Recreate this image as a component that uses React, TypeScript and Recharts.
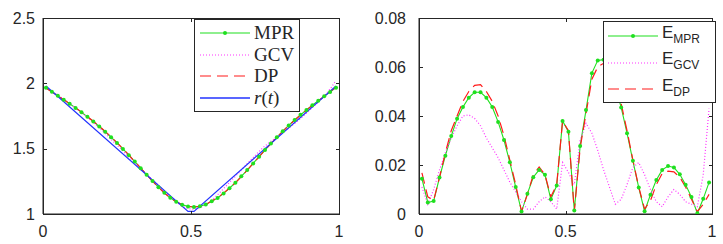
import React from "react";
import { LineChart, Line, XAxis, YAxis } from "recharts";

// sample positions t
const tGrid = [
  0.01, 0.03, 0.05, 0.07, 0.09, 0.11, 0.13, 0.15, 0.17, 0.19,
  0.21, 0.23, 0.25, 0.27, 0.29, 0.31, 0.33, 0.35, 0.37, 0.39,
  0.41, 0.43, 0.45, 0.47, 0.49, 0.51, 0.53, 0.55, 0.57, 0.59,
  0.61, 0.63, 0.65, 0.67, 0.69, 0.71, 0.73, 0.75, 0.77, 0.79,
  0.81, 0.83, 0.85, 0.87, 0.89, 0.91, 0.93, 0.95, 0.97, 0.99,
];

// reconstructions (left panel)
const mprFit = [
  1.9656, 1.9353, 1.9053, 1.8749, 1.8438, 1.8118, 1.7789, 1.7437, 1.7075, 1.6697,
  1.6297, 1.5875, 1.5437, 1.4976, 1.4502, 1.4011, 1.351, 1.301, 1.2517, 1.205,
  1.162, 1.124, 1.094, 1.0716, 1.058, 1.0536, 1.0586, 1.0722, 1.0976, 1.1225,
  1.1573, 1.197, 1.24, 1.288, 1.3365, 1.387, 1.4383, 1.4892, 1.5389, 1.5879,
  1.6339, 1.678, 1.7196, 1.759, 1.7962, 1.8319, 1.8669, 1.9003, 1.9338, 1.9671,
];
const gcvFit = [
  1.969, 1.936, 1.91, 1.878, 1.845, 1.811, 1.776, 1.74, 1.7005, 1.659,
  1.616, 1.571, 1.527, 1.483, 1.438, 1.393, 1.349, 1.305, 1.262, 1.218,
  1.175, 1.133, 1.095, 1.058, 1.041, 1.037, 1.048, 1.07, 1.103, 1.147,
  1.194, 1.242, 1.289, 1.336, 1.386, 1.432, 1.479, 1.521, 1.556, 1.59,
  1.625, 1.657, 1.693, 1.73, 1.772, 1.815, 1.856, 1.903, 1.956, 2.023,
];
const dpFit = [
  1.9632, 1.933, 1.9055, 1.875, 1.845, 1.814, 1.78, 1.746, 1.71, 1.6725,
  1.6328, 1.59, 1.546, 1.5, 1.452, 1.402, 1.352, 1.301, 1.252, 1.204,
  1.1608, 1.124, 1.093, 1.072, 1.058, 1.054, 1.059, 1.073, 1.099, 1.125,
  1.16, 1.1985, 1.239, 1.286, 1.335, 1.386, 1.438, 1.489, 1.538, 1.5855,
  1.632, 1.6765, 1.7175, 1.7572, 1.795, 1.831, 1.866, 1.901, 1.936, 1.972,
];
const rT = [0.01, 0.49, 0.51, 0.99];
const rVal = [1.98, 1.02, 1.02, 1.98];

// errors (right panel)
const eMpr = [
  0.0144, 0.0047, 0.0053, 0.0149, 0.0238, 0.0318, 0.0389, 0.0437, 0.0475, 0.0497,
  0.0497, 0.0475, 0.0437, 0.0376, 0.0302, 0.0211, 0.011, 0.001, 0.0083, 0.015,
  0.018, 0.016, 0.006, 0.0116, 0.038, 0.0336, 0.0014, 0.0278, 0.0424, 0.0575,
  0.0627, 0.063, 0.06, 0.052, 0.0435, 0.033, 0.0217, 0.0108, 0.0011, 0.0079,
  0.0139, 0.018, 0.0196, 0.019, 0.0162, 0.0119, 0.0069, 0.0003, 0.0062, 0.0129,
];
const eGcv = [
  0.011, 0.004, 0.01, 0.018, 0.025, 0.031, 0.036, 0.04, 0.0405, 0.039,
  0.036, 0.031, 0.027, 0.023, 0.018, 0.013, 0.009, 0.005, 0.002, 0.002,
  0.005, 0.007, 0.005, 0.002, 0.021, 0.017, 0.012, 0.03, 0.037, 0.033,
  0.026, 0.018, 0.011, 0.004, 0.006, 0.012, 0.019, 0.021, 0.016, 0.01,
  0.005, 0.003, 0.007, 0.01, 0.008, 0.005, 0.004, 0.003, 0.016, 0.043,
];
const eDp = [
  0.0168, 0.007, 0.0055, 0.015, 0.025, 0.034, 0.04, 0.046, 0.05, 0.0525,
  0.0528, 0.05, 0.046, 0.04, 0.032, 0.022, 0.012, 0.001, 0.008, 0.016,
  0.0192, 0.016, 0.007, 0.012, 0.038, 0.034, 0.001, 0.027, 0.041, 0.055,
  0.06, 0.0615, 0.061, 0.054, 0.045, 0.034, 0.022, 0.011, 0.002, 0.0055,
  0.012, 0.0165, 0.0175, 0.0172, 0.015, 0.011, 0.006, 0.001, 0.004, 0.008,
];

const xTicks = [0, 0.5, 1];
const fitTicks = [1, 1.5, 2, 2.5];
const errTicks = [0, 0.02, 0.04, 0.06, 0.08];

const fitRows = tGrid.map((t, i) => ({ t, mpr: mprFit[i], gcv: gcvFit[i], dp: dpFit[i] }));
const errRows = tGrid.map((t, i) => ({ t, mpr: eMpr[i], gcv: eGcv[i], dp: eDp[i] }));
const trueRows = rT.map((t, i) => ({ t, r: rVal[i] }));

const GREEN = "#1fe01f";
const MAGENTA = "#ff33ff";
const RED = "#ff1a1a";
const BLUE = "#2233ff";
const INK = "#262626";
const tickFont = { fill: INK, fontSize: 16, fontFamily: "Liberation Sans, Arial, sans-serif" };
const PLOT_TOP = 18;
const PLOT_H = 196;

// matlab-style box outline with inward ticks, drawn as a bordered div over the plot
function Box({ left, width, domain, yTicks }: { left: number; width: number; domain: number[]; yTicks: number[] }) {
  const [y0, y1] = domain;
  const tk = 4;
  const ys = yTicks.map((v) => Math.round(PLOT_H - ((v - y0) / (y1 - y0)) * PLOT_H));
  const xs = xTicks.map((v) => Math.round(v * width));
  const bar = (k: string, l: number, t: number, w: number, h: number) => (
    <div key={k} style={{ position: "absolute", left: l, top: t, width: w, height: h, background: INK }} />
  );
  return (
    <div style={{ position: "absolute", left, top: PLOT_TOP, width: width + 1, height: PLOT_H + 1, zIndex: 5, pointerEvents: "none" }}>
      <div style={{ position: "absolute", left: 0, top: 0, width: width - 1, height: PLOT_H - 1, border: `1px solid ${INK}` }} />
      {xs.map((x, i) => bar("xt" + i, x, 0, 1, tk))}
      {xs.map((x, i) => bar("xb" + i, x, PLOT_H - tk + 1, 1, tk))}
      {ys.map((y, i) => bar("yl" + i, 0, y, tk, 1))}
      {ys.map((y, i) => bar("yr" + i, width - tk + 1, y, tk, 1))}
    </div>
  );
}

function Sample({ kind }: { kind: string }) {
  return (
    <svg width={50} height={24} style={{ display: "block" }}>
      {kind === "mpr" && (
        <>
          <line x1={0} x2={50} y1={12} y2={12} stroke={GREEN} strokeWidth={1.2} />
          <circle cx={25} cy={12} r={2} fill={GREEN} />
        </>
      )}
      {kind === "gcv" && <line x1={0} x2={50} y1={12} y2={12} stroke={MAGENTA} strokeWidth={1.2} strokeDasharray="1 2" />}
      {kind === "dp" && <line x1={0} x2={50} y1={12} y2={12} stroke={RED} strokeWidth={1.2} strokeDasharray="11 6" />}
      {kind === "r" && <line x1={0} x2={50} y1={12} y2={12} stroke={BLUE} strokeWidth={1.4} />}
    </svg>
  );
}

const fitLegend = [
  { kind: "mpr", label: <span>MPR</span> },
  { kind: "gcv", label: <span>GCV</span> },
  { kind: "dp", label: <span>DP</span> },
  { kind: "r", label: <span><i>r</i>(<i>t</i>)</span> },
];
const errLegend = [
  { kind: "mpr", sub: "MPR" },
  { kind: "gcv", sub: "GCV" },
  { kind: "dp", sub: "DP" },
];

export default function App() {
  return (
    <div style={{ position: "absolute", left: 0, top: 0, width: 723, height: 244, background: "#fff" }}>
      <div style={{ position: "absolute", left: 0, top: 0 }}>
        <LineChart width={360} height={244} data={fitRows} margin={{ top: PLOT_TOP, right: 21, bottom: 0, left: 0 }}>
          <XAxis dataKey="t" type="number" domain={[0, 1]} ticks={xTicks} stroke={INK} tickLine={false}
            tickSize={-4} tickMargin={16} height={30} tick={tickFont} allowDataOverflow />
          <YAxis type="number" domain={[1, 2.5]} ticks={fitTicks} width={43} stroke={INK} tickLine={false}
            tickSize={-4} tickMargin={12} tick={tickFont} allowDataOverflow />
          <Line dataKey="mpr" stroke={GREEN} strokeWidth={1.1} dot={{ r: 2, fill: GREEN, stroke: "none" }} isAnimationActive={false} />
          <Line dataKey="gcv" stroke={MAGENTA} strokeWidth={1.2} strokeDasharray="1 2" dot={false} isAnimationActive={false} />
          <Line dataKey="dp" stroke={RED} strokeWidth={1.1} strokeDasharray="11 6" dot={false} isAnimationActive={false} />
          <Line data={trueRows} dataKey="r" stroke={BLUE} strokeWidth={1.2} dot={false} isAnimationActive={false} />
        </LineChart>
      </div>
      <div style={{ position: "absolute", left: 360, top: 0 }}>
        <LineChart width={363} height={244} data={errRows} margin={{ top: PLOT_TOP, right: 11, bottom: 0, left: 0 }}>
          <XAxis dataKey="t" type="number" domain={[0, 1]} ticks={xTicks} stroke={INK} tickLine={false}
            tickSize={-4} tickMargin={16} height={30} tick={tickFont} allowDataOverflow />
          <YAxis type="number" domain={[0, 0.08]} ticks={errTicks} width={59} stroke={INK} tickLine={false}
            tickSize={-4} tickMargin={17} tick={tickFont} allowDataOverflow />
          <Line dataKey="mpr" stroke={GREEN} strokeWidth={1.1} dot={{ r: 2, fill: GREEN, stroke: "none" }} isAnimationActive={false} />
          <Line dataKey="gcv" stroke={MAGENTA} strokeWidth={1.2} strokeDasharray="1 2" dot={false} isAnimationActive={false} />
          <Line dataKey="dp" stroke={RED} strokeWidth={1.2} strokeDasharray="11 6" dot={false} isAnimationActive={false} />
        </LineChart>
      </div>

      <Box left={43} width={296} domain={[1, 2.5]} yTicks={fitTicks} />
      <Box left={419} width={293} domain={[0, 0.08]} yTicks={errTicks} />

      <div style={{ position: "absolute", left: 194, top: 19, width: 104, height: 91, border: `1px solid ${INK}`, background: "#fff", zIndex: 6,
        fontFamily: "Liberation Serif, Times New Roman, serif", fontSize: 19, color: INK }}>
        {fitLegend.map((row, i) => (
          <div key={row.kind} style={{ position: "absolute", left: 5, top: 1 + i * 21.5, height: 24, display: "flex", alignItems: "center" }}>
            <Sample kind={row.kind} />
            <div style={{ marginLeft: 4, lineHeight: "24px" }}>{row.label}</div>
          </div>
        ))}
      </div>

      <div style={{ position: "absolute", left: 603, top: 21, width: 111, height: 80, border: `1px solid ${INK}`, background: "#fff", zIndex: 6,
        fontFamily: "Liberation Sans, Arial, sans-serif", color: INK }}>
        {errLegend.map((row, i) => (
          <div key={row.kind} style={{ position: "absolute", left: 4, top: 2 + i * 26.5, height: 24, display: "flex", alignItems: "center" }}>
            <Sample kind={row.kind} />
            <div style={{ marginLeft: 4, lineHeight: "24px", position: "relative", top: -3 }}>
              <span style={{ fontSize: 17 }}>E</span>
              <span style={{ fontSize: 12, position: "relative", top: 5 }}>{row.sub}</span>
            </div>
          </div>
        ))}
      </div>
    </div>
  );
}
